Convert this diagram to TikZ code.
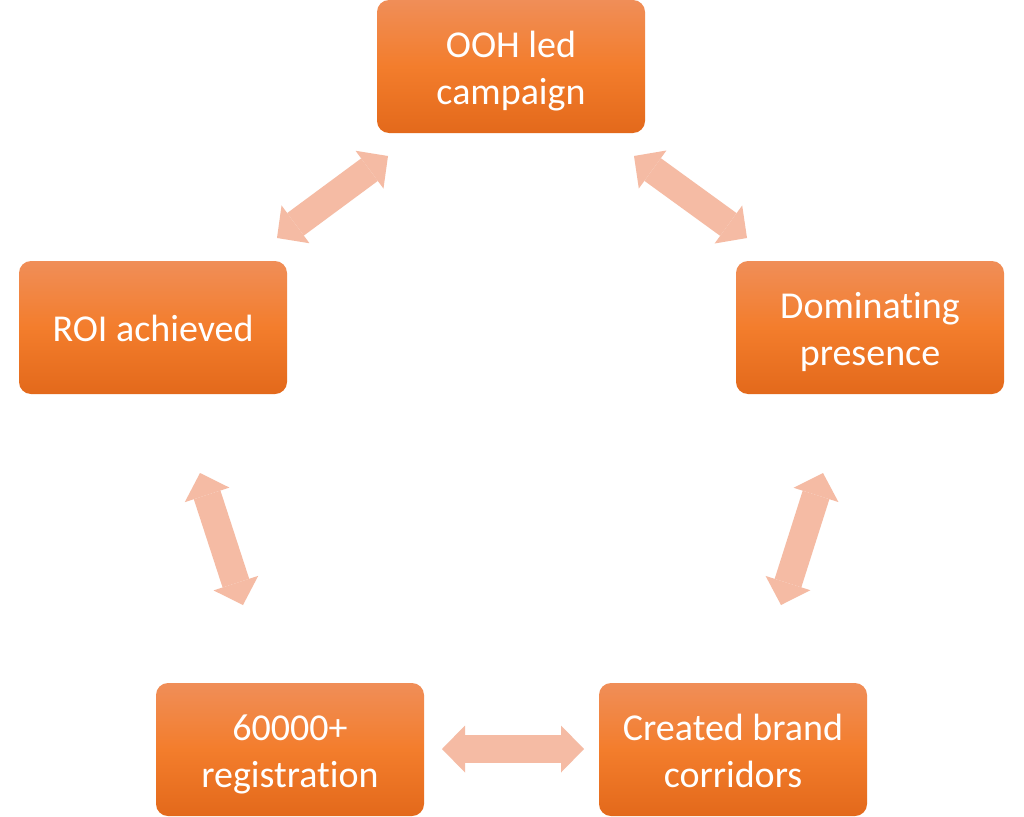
\documentclass[tikz,border=0pt]{standalone}
\usepackage{fontspec}
\setmainfont{Carlito}[Ligatures=NoCommon]
\usetikzlibrary{arrows.meta}
\definecolor{boxtop}{HTML}{F08E58}
\definecolor{boxmid}{HTML}{F37D2C}
\definecolor{boxbot}{HTML}{E3691B}
\definecolor{arrowfill}{HTML}{F5BBA4}
\newcommand\lnstrut{\rule[-6.75pt]{0pt}{35pt}}
\tikzset{
  stepbox/.style={rectangle, rounded corners=9pt, minimum width=201pt, minimum height=99.75pt,
    top color=boxtop, bottom color=boxbot, middle color=boxmid, draw=none,
    text=white, align=center, font=\fontsize{28.5}{35}\selectfont, inner sep=0pt},
  bigarrow/.style={draw=arrowfill, line width=21pt,
    {Triangle[length=17.25pt,width=35.25pt,line width=0pt,fill=arrowfill]}-{Triangle[length=17.25pt,width=35.25pt,line width=0pt,fill=arrowfill]}}
}
\begin{document}
\begin{tikzpicture}[x=0.75pt,y=-0.75pt]
\useasboundingbox[fill=white] (0,0) rectangle (1024,817);
\node[stepbox] (ooh) at (511,66.5) {OOH led\lnstrut\\campaign\lnstrut};
\node[stepbox] (dom) at (870,327.5) {Dominat\kern0pt ing\lnstrut\\presence\lnstrut};
\node[stepbox] (bra) at (733,749.5) {Created brand\lnstrut\\corridors\lnstrut};
\node[stepbox] (reg) at (290,749.5) {60000+\lnstrut\\registrat\kern0pt ion\lnstrut};
\node[stepbox] (roi) at (153,327.5) {ROI achieved\lnstrut};
% arrow tip coordinates
\coordinate (t1a) at (388,156);
\coordinate (t1b) at (277,238);
\coordinate (t2a) at (634,156);
\coordinate (t2b) at (747,238);
\coordinate (t3a) at (823,473);
\coordinate (t3b) at (781,605);
\coordinate (t4a) at (200,473);
\coordinate (t4b) at (243,605);
\coordinate (t5a) at (442,749);
\coordinate (t5b) at (584,749);
\draw[bigarrow] (t1a) -- (t1b);
\draw[bigarrow] (t2a) -- (t2b);
\draw[bigarrow] (t3a) -- (t3b);
\draw[bigarrow] (t4a) -- (t4b);
\draw[bigarrow] (t5a) -- (t5b);
\end{tikzpicture}
\end{document}
